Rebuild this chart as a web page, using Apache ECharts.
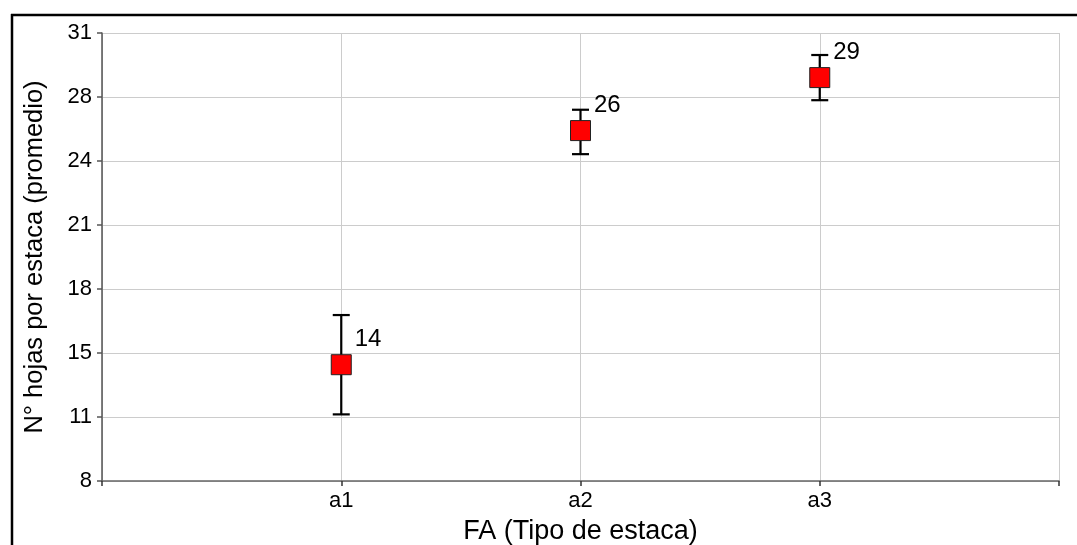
<!DOCTYPE html>
<html>
<head>
<meta charset="utf-8">
<script src="https://cdn.jsdelivr.net/npm/echarts@6/dist/echarts.min.js"></script>
<style>
  html, body { margin: 0; padding: 0; background: #fff; overflow: hidden; }
  #chart { width: 1077px; height: 545px; }
</style>
</head>
<body>
<div id="chart"></div>
<script>
// Treatment categories (FA: tipo de estaca), placed at x = 1, 2, 3
const categories = ['a1', 'a2', 'a3'];
// Mean leaves per cutting and the ends of each error bar
const means = [13.97, 25.99, 28.71];
const lower = [11.42, 24.78, 27.55];
const upper = [16.52, 27.06, 29.87];
// Y axis range: 8..31 split into 7 equal steps, labels rounded
const yMin = 8;
const yMax = 31;
const ySteps = 7;

const FONT = 'Liberation Sans, Arial, sans-serif';

const pointData = means.map((m, i) => [i + 1, m]);
const barData = means.map((m, i) => [i + 1, lower[i], upper[i]]);

const chart = echarts.init(document.getElementById('chart'), null, { renderer: 'canvas' });

chart.setOption({
  animation: false,
  backgroundColor: '#ffffff',
  grid: { left: 102, right: 18, top: 33, bottom: 64, containLabel: false, outerBoundsMode: 'none' },
  graphic: [
    { type: 'line', shape: { x1: 11, y1: 15, x2: 1077, y2: 15 }, style: { stroke: '#000', lineWidth: 2.5 } },
    { type: 'line', shape: { x1: 12, y1: 14, x2: 12, y2: 545 }, style: { stroke: '#000', lineWidth: 2.5 } }
  ],
  xAxis: {
    type: 'value',
    min: 0,
    max: categories.length + 1,
    interval: 1,
    name: 'FA (Tipo de estaca)',
    nameLocation: 'middle',
    nameGap: 37,
    nameTextStyle: { fontFamily: FONT, fontSize: 27, color: '#000', verticalAlign: 'top' },
    axisLine: { show: true, onZero: false, lineStyle: { color: '#666', width: 1.5 } },
    axisTick: { show: true, length: 5, inside: false, lineStyle: { color: '#333', width: 1.5 } },
    axisLabel: {
      fontFamily: FONT, fontSize: 22, color: '#000', margin: 9,
      formatter: v => categories[Math.round(v) - 1] || ''
    },
    splitLine: { show: true, lineStyle: { color: '#cccccc', width: 1 } }
  },
  yAxis: {
    type: 'value',
    min: yMin,
    max: yMax,
    interval: (yMax - yMin) / ySteps,
    name: 'N° hojas por estaca (promedio)',
    nameLocation: 'middle',
    nameGap: 54,
    nameTextStyle: { fontFamily: FONT, fontSize: 25.5, color: '#000' },
    axisLine: { show: true, onZero: false, lineStyle: { color: '#555', width: 1.5 } },
    axisTick: { show: true, length: 5, lineStyle: { color: '#555', width: 1.5 } },
    axisLabel: {
      fontFamily: FONT, fontSize: 22, color: '#000', margin: 10,
      formatter: v => String(Math.round(v))
    },
    splitLine: { show: true, lineStyle: { color: '#cccccc', width: 1 } }
  },
  series: [
    {
      type: 'custom',
      name: 'error',
      z: 2,
      data: barData,
      renderItem: function (params, api) {
        const x = api.value(0);
        const lo = api.coord([x, api.value(1)]);
        const hi = api.coord([x, api.value(2)]);
        const half = 8.5;
        const style = { stroke: '#000', lineWidth: 2.2 };
        return {
          type: 'group',
          children: [
            { type: 'line', shape: { x1: lo[0], y1: lo[1], x2: hi[0], y2: hi[1] }, style },
            { type: 'line', shape: { x1: hi[0] - half, y1: hi[1], x2: hi[0] + half, y2: hi[1] }, style },
            { type: 'line', shape: { x1: lo[0] - half, y1: lo[1], x2: lo[0] + half, y2: lo[1] }, style }
          ]
        };
      }
    },
    {
      type: 'scatter',
      name: 'media',
      z: 3,
      data: pointData,
      symbol: 'rect',
      symbolSize: 20,
      itemStyle: { color: '#ff0000', borderColor: '#222', borderWidth: 1, opacity: 1 },
      label: {
        show: true,
        position: 'right',
        distance: 3,
        offset: [0, -25],
        fontFamily: FONT,
        fontSize: 24,
        color: '#000',
        formatter: p => String(Math.round(p.value[1]))
      }
    }
  ]
});
</script>
</body>
</html>
